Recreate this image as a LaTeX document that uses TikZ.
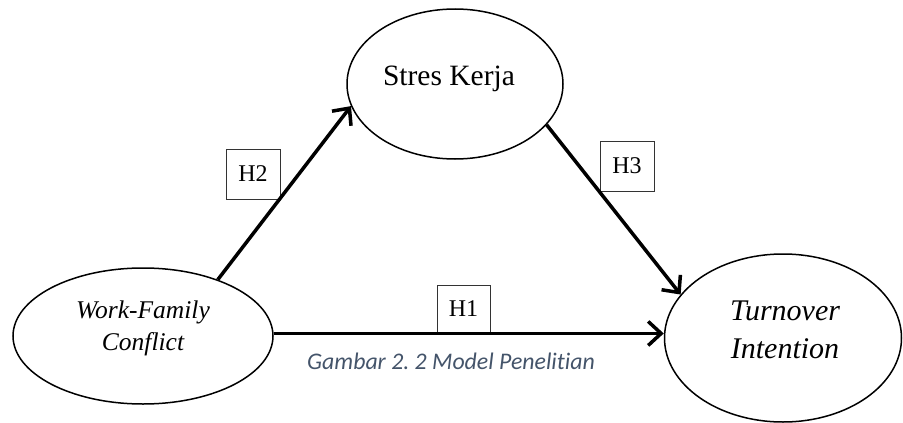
\documentclass[tikz,border=0pt]{standalone}
\usepackage{fontspec}
\setmainfont{Liberation Serif}
\newfontfamily\capfont[Ligatures=NoCommon]{Carlito}
\usetikzlibrary{shapes.geometric,arrows.meta}
\definecolor{capblue}{HTML}{44546A}
\begin{document}
\begin{tikzpicture}[x=1pt,y=-1pt,
  construct/.style={draw, ellipse, line width=1.5pt, inner sep=0pt},
  lbl/.style={anchor=base, inner sep=0pt},
  hypbox/.style={draw=black!80, line width=0.9pt, fill=white, inner sep=0pt,
    font=\fontsize{24}{28}\selectfont},
  effect/.style={line width=3.5pt, -{Straight Barb[length=13pt,width=24pt]}}
]
\useasboundingbox (0,0) rectangle (903,423);
% constructs
\node[construct, minimum width=216pt, minimum height=150pt] (sk) at (455,84) {};
\node[lbl, font=\fontsize{29.5}{34}\selectfont] (skt) at (449,85) {Stres Kerja};
\node[construct, minimum width=260pt, minimum height=136pt] (wfc) at (143,336) {};
\node[lbl, font=\itshape\fontsize{25.5}{30}\selectfont] (wfca) at (143,318) {Work-Family};
\node[lbl, font=\itshape\fontsize{25.5}{30}\selectfont] (wfcb) at (143,350) {Conflict};
\node[construct, minimum width=237pt, minimum height=168pt] (ti) at (783,338) {};
\node[lbl, font=\itshape\fontsize{30}{36}\selectfont] (tia) at (785,320) {Turnover};
\node[lbl, font=\itshape\fontsize{30}{36}\selectfont] (tib) at (785,358) {Intention};
% hypothesis boxes
\node[hypbox, minimum width=54pt, minimum height=50pt] (h2) at (253,174) {H2};
\node[hypbox, minimum width=54pt, minimum height=50pt] (h3) at (627,166) {H3};
\node[hypbox, minimum width=53pt, minimum height=48pt] (h1) at (463.5,309) {H1};
% paths
\draw[effect] (wfc.37.7) -- (sk.192.6);
\draw[effect] (sk.-24.8) -- (ti.157.7);
\draw[effect] (wfc.east |- h1.south) -- (ti.west |- h1.south);
% caption
\node[anchor=base west, inner sep=0pt, text=capblue,
  font=\capfont\itshape\fontsize{23.8}{28}\selectfont] (cap) at (307,369)
  {Gambar 2.\ 2 Model Penelitian};
\end{tikzpicture}
\end{document}
